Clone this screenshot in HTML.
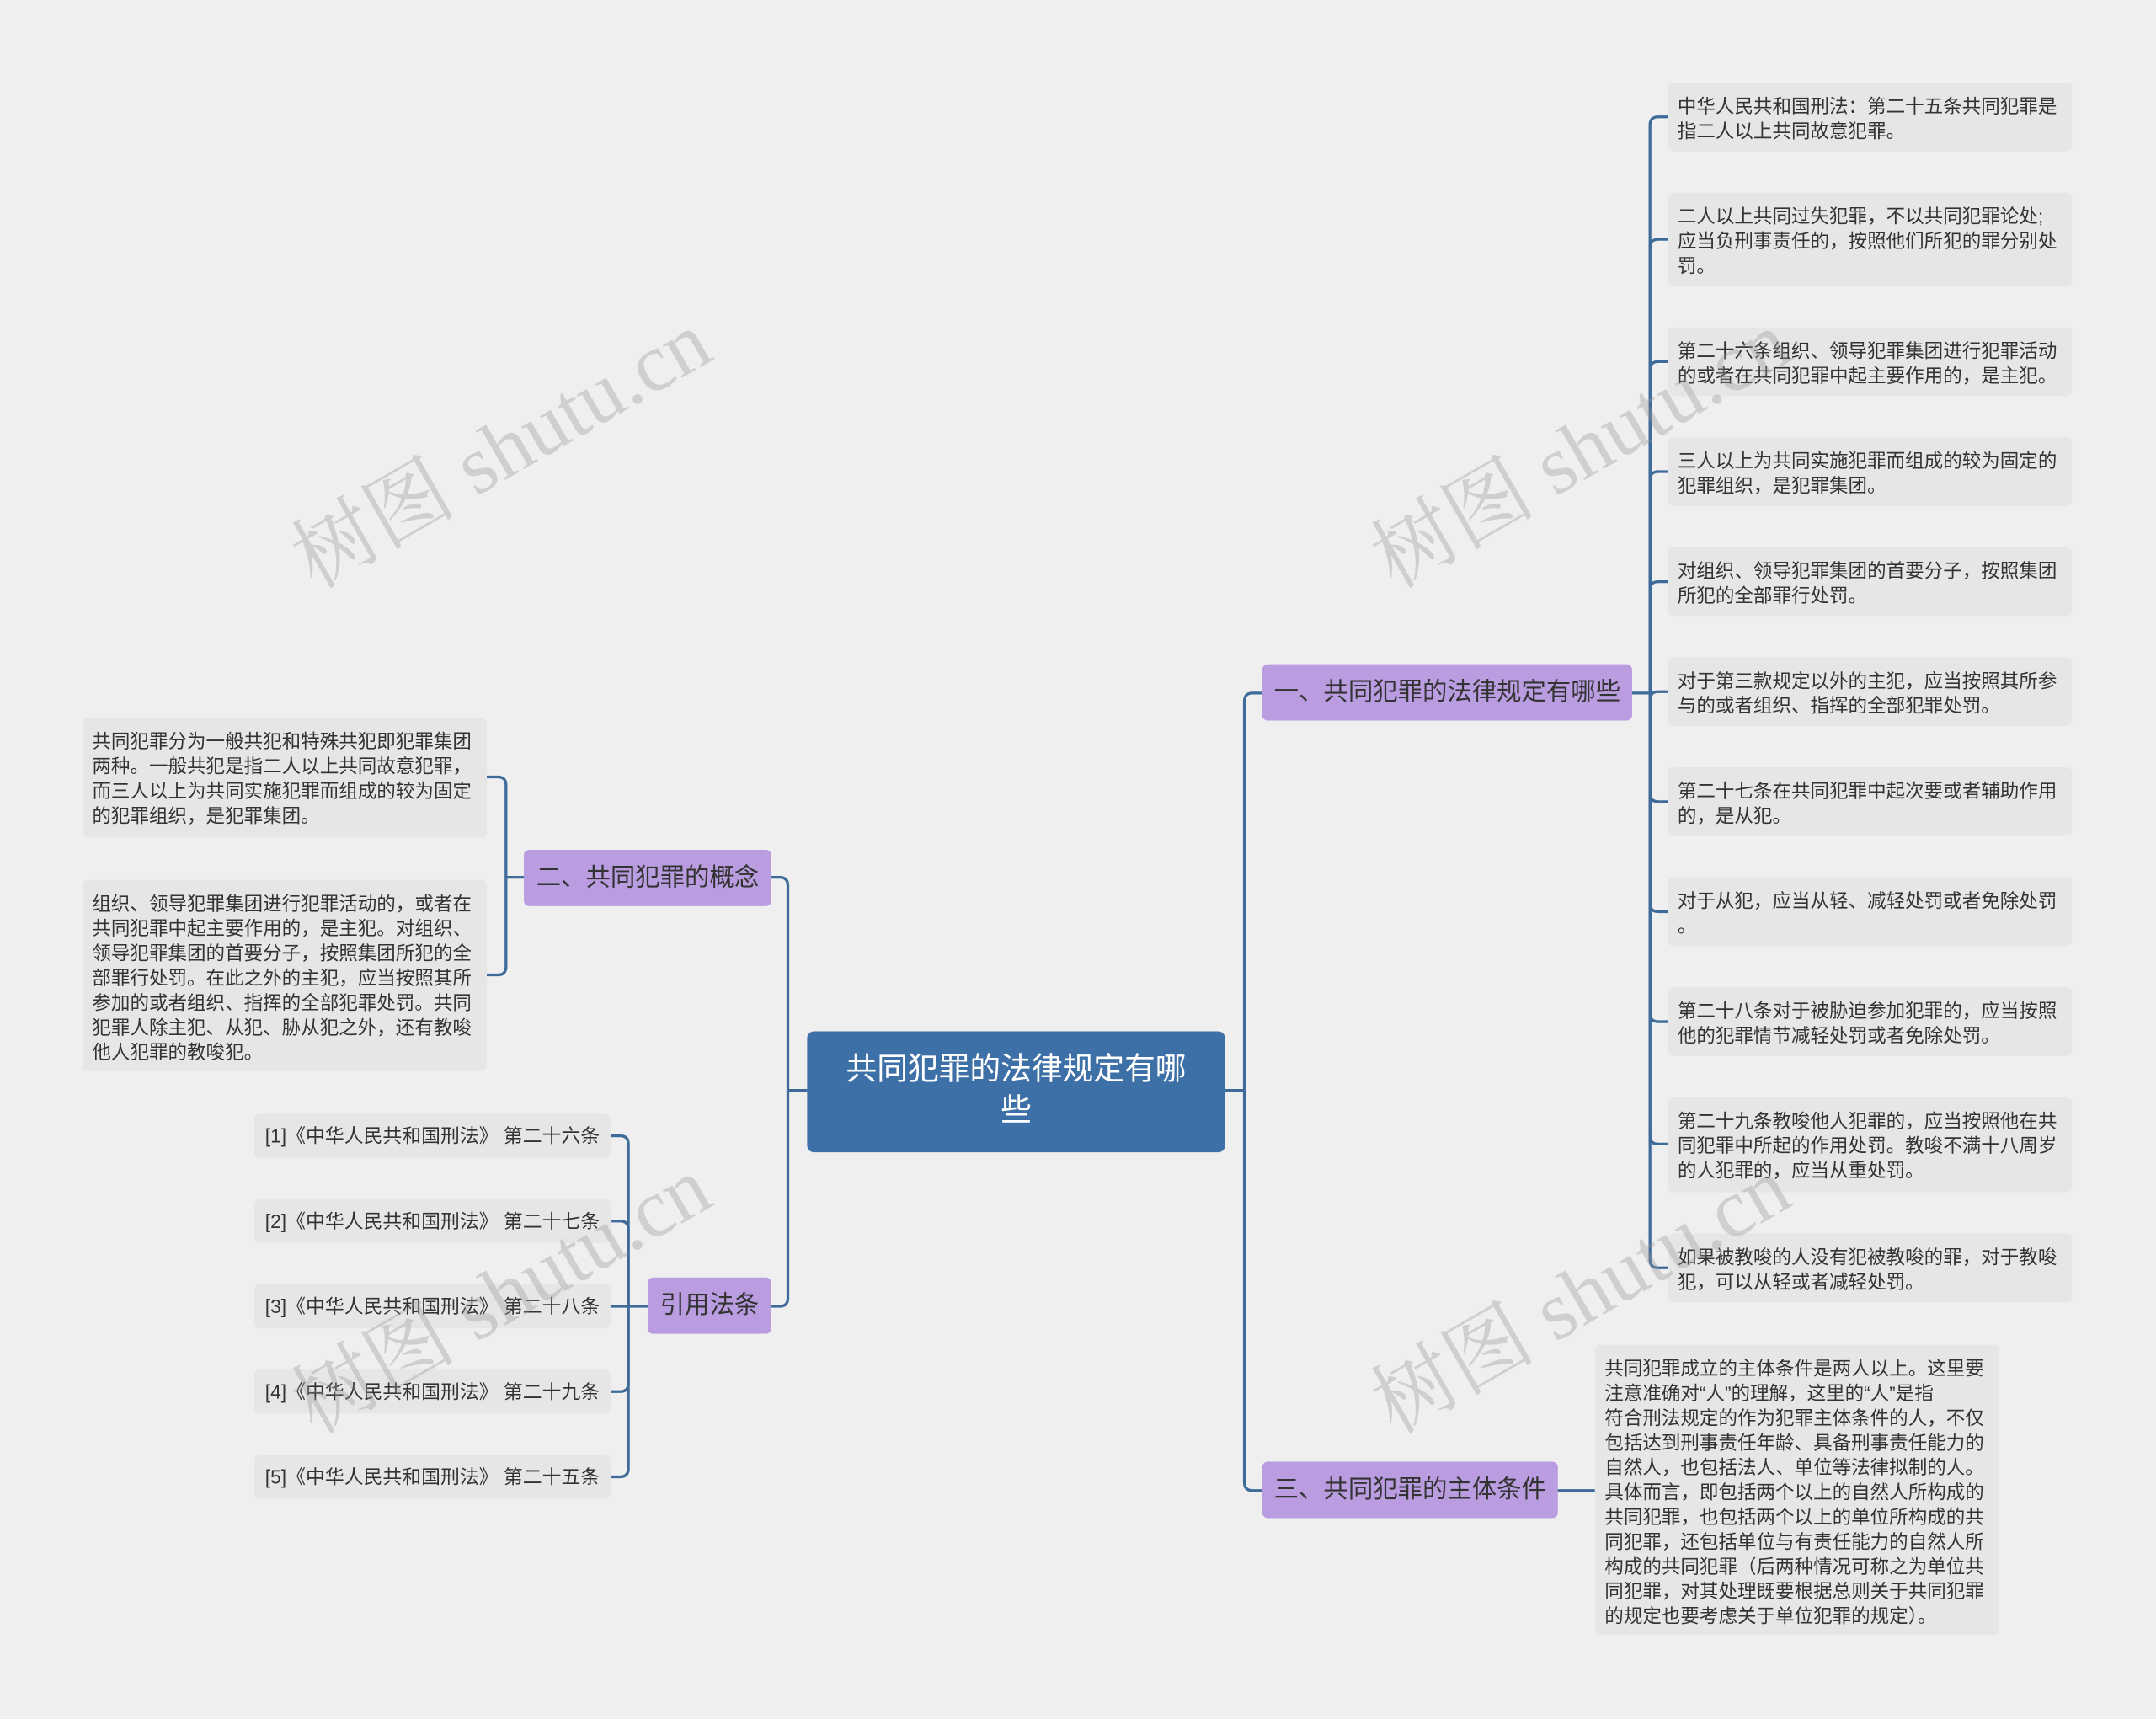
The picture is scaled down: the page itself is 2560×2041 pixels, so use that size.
<!DOCTYPE html>
<html><head><meta charset="utf-8">
<style>
html,body{margin:0;padding:0;background:#efefef;}
body{width:2560px;height:2040px;overflow:hidden;}
#c{position:absolute;left:0;top:0;width:1568px;height:1250px;transform:scale(1.63265);transform-origin:0 0;font-family:"Liberation Sans","Noto Sans CJK SC",sans-serif;}
.n{position:absolute;box-sizing:border-box;}
.leaf{background:#e6e6e6;border-radius:4px;color:#333;font-size:13.8px;line-height:18px;padding:9px 7px 7px;white-space:nowrap;}
.br{background:#b99de0;border-radius:4px;color:#333;font-size:18px;line-height:40px;text-align:center;}
.cen{background:#3d70a6;border-radius:5px;color:#fff;font-size:22.5px;line-height:30px;text-align:center;padding-top:13px;}
.cit{background:#e6e6e6;border-radius:4px;color:#333;font-size:14px;line-height:32px;text-align:center;white-space:nowrap;}
.wm{position:absolute;font-family:"Liberation Serif","Noto Serif CJK SC",serif;font-size:60px;color:rgba(150,150,150,0.35);transform:rotate(-30deg);transform-origin:0 0;white-space:nowrap;}
svg{position:absolute;left:0;top:0;}
</style></head><body><div id="c">
<svg width="1568" height="1250" fill="none" stroke="#3f6b9a" stroke-width="2">
<path d="M890 793 H905"/>
<path d="M905 793 V510 Q905 504 911 504 H918"/>
<path d="M905 793 V1078 Q905 1084 911 1084 H918"/>
<path d="M1186 504 H1200"/>
<path d="M1200 504 V91 Q1200 85 1206 85 H1213"/>
<path d="M1200 504 V180 Q1200 174 1206 174 H1213"/>
<path d="M1200 504 V269 Q1200 263 1206 263 H1213"/>
<path d="M1200 504 V349 Q1200 343 1206 343 H1213"/>
<path d="M1200 504 V429 Q1200 423 1206 423 H1213"/>
<path d="M1200 504 V509 Q1200 503 1206 503 H1213"/>
<path d="M1200 504 V577 Q1200 583 1206 583 H1213"/>
<path d="M1200 504 V657 Q1200 663 1206 663 H1213"/>
<path d="M1200 504 V737 Q1200 743 1206 743 H1213"/>
<path d="M1200 504 V826 Q1200 832 1206 832 H1213"/>
<path d="M1200 504 V916 Q1200 922 1206 922 H1213"/>
<path d="M1132 1084 H1160"/>
<path d="M587 793 H573"/>
<path d="M573 793 V644 Q573 638 567 638 H560"/>
<path d="M573 793 V944 Q573 950 567 950 H560"/>
<path d="M381 638 H368"/>
<path d="M368 638 V571 Q368 565 362 565 H354"/>
<path d="M368 638 V703 Q368 709 362 709 H354"/>
<path d="M471 950 H457"/>
<path d="M457 950 V832 Q457 826 451 826 H444"/>
<path d="M457 950 V894 Q457 888 451 888 H444"/>
<path d="M457 950 H444"/>
<path d="M457 950 V1006 Q457 1012 451 1012 H444"/>
<path d="M457 950 V1068 Q457 1074 451 1074 H444"/>
</svg>

<div class="n cen" style="left:587px;top:750px;width:304px;height:88px;">共同犯罪的法律规定有哪<br>些</div>
<div class="n br" style="left:918px;top:483px;width:269px;height:41px;">一、共同犯罪的法律规定有哪些</div>
<div class="n br" style="left:918px;top:1063px;width:215px;height:41px;">三、共同犯罪的主体条件</div>
<div class="n br" style="left:381px;top:618px;width:180px;height:41px;">二、共同犯罪的概念</div>
<div class="n br" style="left:471px;top:929px;width:90px;height:41px;">引用法条</div>

<div class="n leaf" style="left:1213px;top:60px;width:294px;height:50px;">中华人民共和国刑法：第二十五条共同犯罪是<br>指二人以上共同故意犯罪。</div>
<div class="n leaf" style="left:1213px;top:140px;width:294px;height:68px;">二人以上共同过失犯罪，不以共同犯罪论处;<br>应当负刑事责任的，按照他们所犯的罪分别处<br>罚。</div>
<div class="n leaf" style="left:1213px;top:238px;width:294px;height:50px;">第二十六条组织、领导犯罪集团进行犯罪活动<br>的或者在共同犯罪中起主要作用的，是主犯。</div>
<div class="n leaf" style="left:1213px;top:318px;width:294px;height:50px;">三人以上为共同实施犯罪而组成的较为固定的<br>犯罪组织，是犯罪集团。</div>
<div class="n leaf" style="left:1213px;top:398px;width:294px;height:50px;">对组织、领导犯罪集团的首要分子，按照集团<br>所犯的全部罪行处罚。</div>
<div class="n leaf" style="left:1213px;top:478px;width:294px;height:50px;">对于第三款规定以外的主犯，应当按照其所参<br>与的或者组织、指挥的全部犯罪处罚。</div>
<div class="n leaf" style="left:1213px;top:558px;width:294px;height:50px;">第二十七条在共同犯罪中起次要或者辅助作用<br>的，是从犯。</div>
<div class="n leaf" style="left:1213px;top:638px;width:294px;height:50px;">对于从犯，应当从轻、减轻处罚或者免除处罚<br>。</div>
<div class="n leaf" style="left:1213px;top:718px;width:294px;height:50px;">第二十八条对于被胁迫参加犯罪的，应当按照<br>他的犯罪情节减轻处罚或者免除处罚。</div>
<div class="n leaf" style="left:1213px;top:798px;width:294px;height:69px;">第二十九条教唆他人犯罪的，应当按照他在共<br>同犯罪中所起的作用处罚。教唆不满十八周岁<br>的人犯罪的，应当从重处罚。</div>
<div class="n leaf" style="left:1213px;top:897px;width:294px;height:50px;">如果被教唆的人没有犯被教唆的罪，对于教唆<br>犯，可以从轻或者减轻处罚。</div>
<div class="n leaf" style="left:1160px;top:978px;width:294px;height:211px;">共同犯罪成立的主体条件是两人以上。这里要<br>注意准确对“人”的理解，这里的“人”是指<br>符合刑法规定的作为犯罪主体条件的人，不仅<br>包括达到刑事责任年龄、具备刑事责任能力的<br>自然人，也包括法人、单位等法律拟制的人。<br>具体而言，即包括两个以上的自然人所构成的<br>共同犯罪，也包括两个以上的单位所构成的共<br>同犯罪，还包括单位与有责任能力的自然人所<br>构成的共同犯罪（后两种情况可称之为单位共<br>同犯罪，对其处理既要根据总则关于共同犯罪<br>的规定也要考虑关于单位犯罪的规定）。</div>

<div class="n leaf" style="left:60px;top:522px;width:294px;height:87px;">共同犯罪分为一般共犯和特殊共犯即犯罪集团<br>两种。一般共犯是指二人以上共同故意犯罪，<br>而三人以上为共同实施犯罪而组成的较为固定<br>的犯罪组织，是犯罪集团。</div>
<div class="n leaf" style="left:60px;top:640px;width:294px;height:139px;">组织、领导犯罪集团进行犯罪活动的，或者在<br>共同犯罪中起主要作用的，是主犯。对组织、<br>领导犯罪集团的首要分子，按照集团所犯的全<br>部罪行处罚。在此之外的主犯，应当按照其所<br>参加的或者组织、指挥的全部犯罪处罚。共同<br>犯罪人除主犯、从犯、胁从犯之外，还有教唆<br>他人犯罪的教唆犯。</div>

<div class="n cit" style="left:185px;top:810px;width:259px;height:32px;">[1]《中华人民共和国刑法》 第二十六条</div>
<div class="n cit" style="left:185px;top:872px;width:259px;height:32px;">[2]《中华人民共和国刑法》 第二十七条</div>
<div class="n cit" style="left:185px;top:934px;width:259px;height:32px;">[3]《中华人民共和国刑法》 第二十八条</div>
<div class="n cit" style="left:185px;top:996px;width:259px;height:32px;">[4]《中华人民共和国刑法》 第二十九条</div>
<div class="n cit" style="left:185px;top:1058px;width:259px;height:32px;">[5]《中华人民共和国刑法》 第二十五条</div>

<div class="wm" style="left:195px;top:370px;">树图 shutu.cn</div>
<div class="wm" style="left:980px;top:370px;">树图 shutu.cn</div>
<div class="wm" style="left:195px;top:985px;">树图 shutu.cn</div>
<div class="wm" style="left:980px;top:985px;">树图 shutu.cn</div>
</div></body></html>
